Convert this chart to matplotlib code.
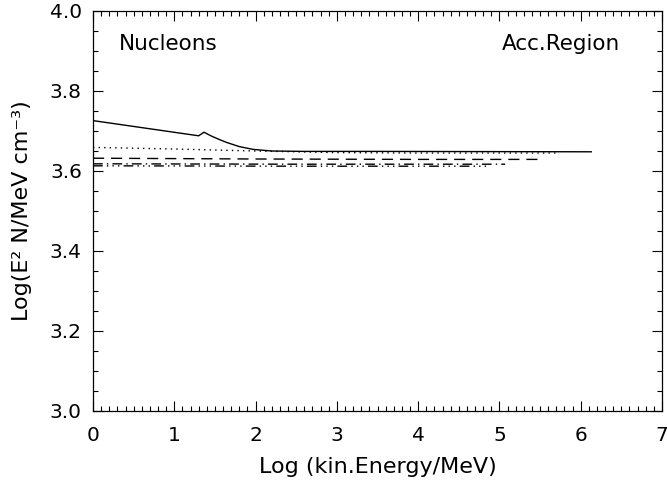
import matplotlib
matplotlib.use("Agg")
import matplotlib.pyplot as plt
from matplotlib.ticker import MultipleLocator

# Data (log kinetic energy in MeV, log E^2 N)
solid_x = [0.0, 1.30, 1.365, 1.45, 1.55, 1.65, 1.8, 1.97, 2.2, 2.6, 3.5, 6.13]
solid_y = [3.726, 3.688, 3.697, 3.688, 3.679, 3.671, 3.661, 3.654, 3.650, 3.649, 3.649, 3.648]

dotted_x = [0.0, 1.0, 2.0, 3.0, 4.0, 5.74]
dotted_y = [3.659, 3.655, 3.650, 3.646, 3.645, 3.645]

dashed_x = [0.0, 2.0, 4.0, 5.50]
dashed_y = [3.632, 3.630, 3.629, 3.629]

dashdot_x = [0.0, 2.5, 5.07]
dashdot_y = [3.618, 3.617, 3.617]

dashdot3_x = [0.0, 2.5, 4.85]
dashdot3_y = [3.613, 3.612, 3.612]

x_ticks = [0, 1, 2, 3, 4, 5, 6, 7]
y_ticks = [3.0, 3.2, 3.4, 3.6, 3.8, 4.0]

plt.rcParams['font.family'] = ['DejaVu Sans']

fig = plt.figure(figsize=(6.67, 4.82), dpi=100)
ax = fig.add_axes([93/667, 1 - 411/482, 569/667, 400/482])

lw = 1.0
ax.plot(solid_x, solid_y, color='black', lw=lw, linestyle='-')
ax.plot(dotted_x, dotted_y, color='black', lw=lw, linestyle=(0, (1, 3)))
ax.plot(dashed_x, dashed_y, color='black', lw=lw, linestyle=(0, (8, 5)))
ax.plot(dashdot_x, dashdot_y, color='black', lw=lw, linestyle=(0, (7, 3, 1, 3)))
ax.plot(dashdot3_x, dashdot3_y, color='black', lw=lw, linestyle=(0, (7, 3, 1, 3, 1, 3, 1, 3)))

ax.set_xlim(0, 7)
ax.set_ylim(3.0, 4.0)
ax.set_xticks(x_ticks)
ax.set_yticks(y_ticks)
ax.set_xticklabels([str(t) for t in x_ticks])
ax.set_yticklabels([f"{t:.1f}" for t in y_ticks])
ax.xaxis.set_minor_locator(MultipleLocator(0.1))
ax.yaxis.set_minor_locator(MultipleLocator(0.05))
ax.tick_params(which='both', direction='in', top=True, right=True, width=0.8, labelsize=14.5)
ax.tick_params(which='major', length=7)
ax.tick_params(which='minor', length=3.5)
ax.tick_params(axis='x', which='major', pad=11)
ax.tick_params(axis='y', which='major', pad=8)
for s in ax.spines.values():
    s.set_linewidth(0.9)

ax.set_xlabel("Log (kin.Energy/MeV)", fontsize=16)
ax.set_ylabel("Log(E² N/MeV cm⁻³)", fontsize=16)
ax.xaxis.set_label_coords(0.5, -0.115)
ax.yaxis.set_label_coords(-0.108, 0.5)

ax.text(0.32, 3.918, "Nucleons", fontsize=15.5, va='center', ha='left')
ax.text(6.49, 3.918, "Acc.Region", fontsize=15.5, va='center', ha='right')

fig.savefig("out.png", dpi=100)
